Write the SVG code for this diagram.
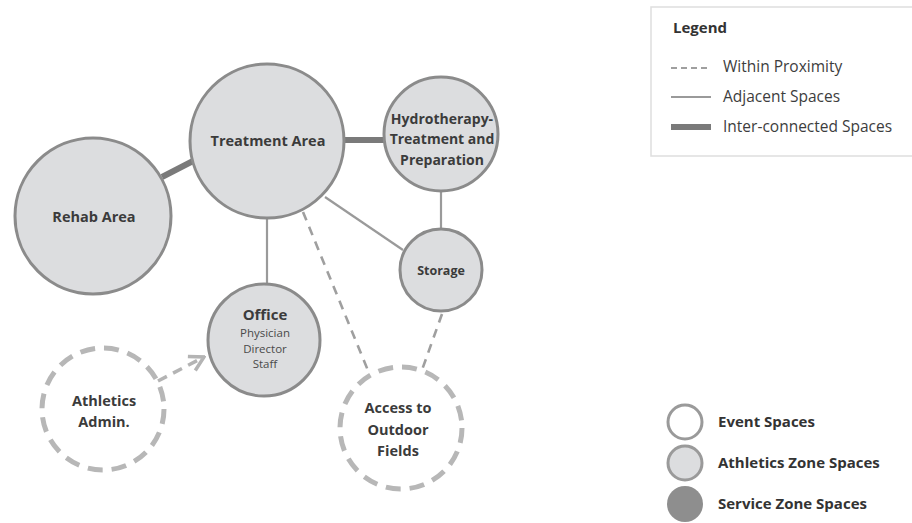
<svg xmlns="http://www.w3.org/2000/svg" width="912" height="523" viewBox="0 0 912 523">
  <defs>
    <marker id="openArrow" viewBox="0 0 20 20" refX="18" refY="10" markerWidth="20" markerHeight="20" orient="auto" markerUnits="userSpaceOnUse">
      <path d="M4,2 L18,10 L4,18" fill="none" stroke="#b4b4b4" stroke-width="3.5"/>
    </marker>
  </defs>
  <style>
    .space { fill: #dcdddf; stroke: #8b8b8b; stroke-width: 3; }
    .event { fill: #ffffff; stroke: #b7b7b7; stroke-width: 5; stroke-dasharray: 15 9; }
    .adj { stroke: #9a9a9a; stroke-width: 2.2; fill: none; }
    .inter { stroke: #7a7a7a; stroke-width: 6; fill: none; }
    .prox { stroke: #9f9f9f; stroke-width: 2.6; stroke-dasharray: 9 7; fill: none; }
    .prox-light { stroke: #b4b4b4; stroke-width: 3.5; stroke-dasharray: 10 7; fill: none; }
    .lbl { font-family: "Open Sans", "Noto Sans", sans-serif; font-weight: bold; fill: #3b3b3b; text-anchor: middle; }
    .sub { font-family: "Open Sans", "Noto Sans", sans-serif; fill: #4a4a4a; text-anchor: middle; font-size: 11.5px; }
    .leg { font-family: "Open Sans", "Noto Sans", sans-serif; fill: #3d3d3d; font-size: 15.5px; }
    .legb { font-family: "Open Sans", "Noto Sans", sans-serif; font-weight: bold; fill: #333333; font-size: 15px; }
  </style>

  <rect width="912" height="523" fill="#ffffff"/>

  <!-- connectors -->
  <g id="connectors">
    <line class="inter" x1="162" y1="177" x2="193" y2="161"/>
    <line class="inter" x1="345" y1="140" x2="384" y2="140"/>
    <line class="adj" x1="267" y1="219" x2="267" y2="283"/>
    <line class="adj" x1="325" y1="197" x2="403" y2="250"/>
    <line class="adj" x1="441" y1="190" x2="441" y2="228"/>
    <line class="prox" x1="303" y1="212" x2="369" y2="373"/>
    <line class="prox" x1="442" y1="314" x2="422" y2="370"/>
    <line class="prox-light" x1="158" y1="381" x2="204" y2="357" marker-end="url(#openArrow)"/>
  </g>

  <!-- nodes -->
  <g id="rehab">
    <circle class="space" cx="93" cy="216" r="78"/>
    <text class="lbl" x="94" y="222" font-size="14.5">Rehab Area</text>
  </g>
  <g id="treatment">
    <circle class="space" cx="267" cy="141" r="77"/>
    <text class="lbl" x="268" y="146" font-size="14.5">Treatment Area</text>
  </g>
  <g id="hydrotherapy">
    <circle class="space" cx="441" cy="134" r="57"/>
    <text class="lbl" x="442" y="124" font-size="14">Hydrotherapy-</text>
    <text class="lbl" x="442" y="144" font-size="14">Treatment and</text>
    <text class="lbl" x="442" y="165" font-size="14">Preparation</text>
  </g>
  <g id="storage">
    <circle class="space" cx="441" cy="270" r="41"/>
    <text class="lbl" x="441" y="275" font-size="12.5">Storage</text>
  </g>
  <g id="office">
    <circle class="space" cx="264" cy="340" r="56"/>
    <text class="lbl" x="265" y="320" font-size="15">Office</text>
    <text class="sub" x="265" y="337">Physician</text>
    <text class="sub" x="265" y="353">Director</text>
    <text class="sub" x="265" y="368">Staff</text>
  </g>
  <g id="athletics-admin">
    <circle class="event" cx="103" cy="409" r="61"/>
    <text class="lbl" x="104" y="406" font-size="14.5">Athletics</text>
    <text class="lbl" x="104" y="427" font-size="14.5">Admin.</text>
  </g>
  <g id="outdoor-fields">
    <circle class="event" cx="401" cy="428" r="61"/>
    <text class="lbl" x="398" y="413" font-size="14.5">Access to</text>
    <text class="lbl" x="398" y="435" font-size="14.5">Outdoor</text>
    <text class="lbl" x="398" y="456" font-size="14.5">Fields</text>
  </g>

  <!-- line legend -->
  <g id="legend-lines">
    <rect x="651" y="7" width="270" height="149" fill="#ffffff" stroke="#dedede" stroke-width="1.5"/>
    <text class="legb" x="673" y="33" font-size="17">Legend</text>
    <line x1="671" y1="68" x2="711" y2="68" stroke="#9f9f9f" stroke-width="2" stroke-dasharray="6 4"/>
    <text class="leg" x="723" y="72">Within Proximity</text>
    <line x1="671" y1="97" x2="711" y2="97" stroke="#9a9a9a" stroke-width="2"/>
    <text class="leg" x="723" y="102">Adjacent Spaces</text>
    <line x1="671" y1="127" x2="711" y2="127" stroke="#7a7a7a" stroke-width="6"/>
    <text class="leg" x="723" y="132">Inter-connected Spaces</text>
  </g>

  <!-- zone legend -->
  <g id="legend-zones">
    <circle cx="685" cy="422" r="17" fill="#ffffff" stroke="#9a9a9a" stroke-width="3"/>
    <text class="legb" x="718" y="427">Event Spaces</text>
    <circle cx="685" cy="463" r="17" fill="#dcdddf" stroke="#9a9a9a" stroke-width="3"/>
    <text class="legb" x="718" y="468">Athletics Zone Spaces</text>
    <circle cx="685" cy="504" r="18" fill="#8e8e8e"/>
    <text class="legb" x="718" y="509">Service Zone Spaces</text>
  </g>
</svg>
